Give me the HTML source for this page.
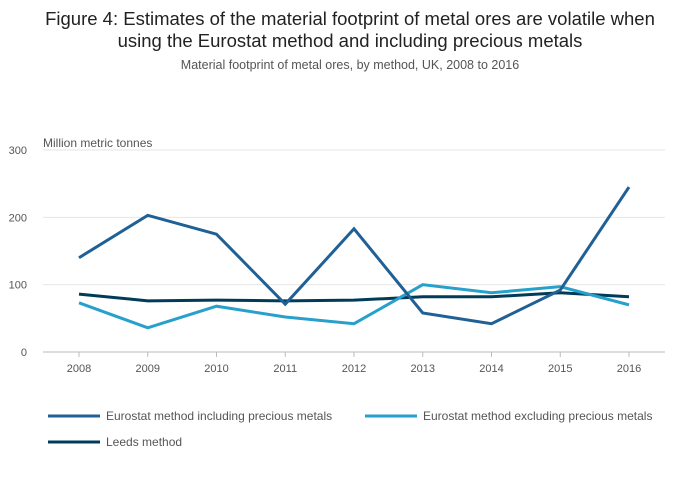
<!DOCTYPE html>
<html><head><meta charset="utf-8"><style>
body{margin:0;background:#fff;font-family:"Liberation Sans",sans-serif;}
#wrap{width:700px;height:502px;position:relative;overflow:hidden;}
</style></head><body>
<div id="wrap">
<svg id="chart" width="700" height="502">
<text x="350" y="25" text-anchor="middle" font-size="18.5" fill="#222">Figure 4: Estimates of the material footprint of metal ores are volatile when</text>
<text x="350" y="47" text-anchor="middle" font-size="18.5" fill="#222">using the Eurostat method and including precious metals</text>
<text x="350" y="69" text-anchor="middle" font-size="12.5" fill="#555">Material footprint of metal ores, by method, UK, 2008 to 2016</text>
<text x="43" y="147" font-size="12" fill="#555">Million metric tonnes</text>
<g id="grid"></g><g id="series"></g><g id="legend"></g>
</svg>
</div>
<script>
const years = ["2008","2009","2010","2011","2012","2013","2014","2015","2016"];
const yTicks = [0,100,200,300];
const inclPrecious = [140,203,175,71,183,58,42,92,245];
const exclPrecious = [73,36,68,52,42,100,88,97,70];
const leeds = [86,76,77,76,77,82,82,88,82];
const seriesNames = ["Eurostat method including precious metals","Eurostat method excluding precious metals","Leeds method"];

const NS="http://www.w3.org/2000/svg";
const x0=79,x1=629,yBase=352,yTop=150,yMax=300,left=43,right=665;
const xs=i=>x0+(x1-x0)*i/(years.length-1);
const ys=v=>yBase-(yBase-yTop)*v/yMax;
function mk(t,a,p){const e=document.createElementNS(NS,t);for(const k in a)e.setAttribute(k,a[k]);p.appendChild(e);return e;}
const grid=document.getElementById('grid');
yTicks.forEach(t=>{
  const l=mk('line',{x1:left,x2:right,y1:ys(t),y2:ys(t),stroke:t===0?'#bbb':'#e6e6e6','stroke-width':1},grid);
  
  
  const tx=mk('text',{x:27,y:ys(t)+4,'text-anchor':'end','font-size':11,fill:'#555'},grid);
  tx.textContent=t;
  
  
});
years.forEach((y,i)=>{
  const l=mk('line',{x1:xs(i),x2:xs(i),y1:yBase,y2:yBase+5,stroke:'#bbb'},grid);
  
  
  const tx=mk('text',{x:xs(i),y:yBase+20,'text-anchor':'middle','font-size':11,fill:'#555'},grid);
  tx.textContent=y;
  
  
});
const sg=document.getElementById('series');
const colors=['#206095','#27a0cc','#003c57'];
const data=[inclPrecious,exclPrecious,leeds];
[2,1,0].forEach(k=>{
  const d=data[k].map((v,i)=>(i?'L':'M')+xs(i)+','+ys(v)).join('');
  const p=mk('path',{d:d,fill:'none',stroke:colors[k],'stroke-width':3},sg);
  
  
});
const lg=document.getElementById('legend');
const lpos=[[48,416],[365,416],[48,442]];
seriesNames.forEach((n,k)=>{
  const g=mk('g',{},lg);
  
  
  mk('line',{x1:lpos[k][0],x2:lpos[k][0]+52,y1:lpos[k][1],y2:lpos[k][1],stroke:colors[k],'stroke-width':3},g);
  const t=mk('text',{x:lpos[k][0]+58,y:lpos[k][1]+4,'font-size':12,fill:'#555'},g);
  t.textContent=n;
});
</script>
</body></html>
